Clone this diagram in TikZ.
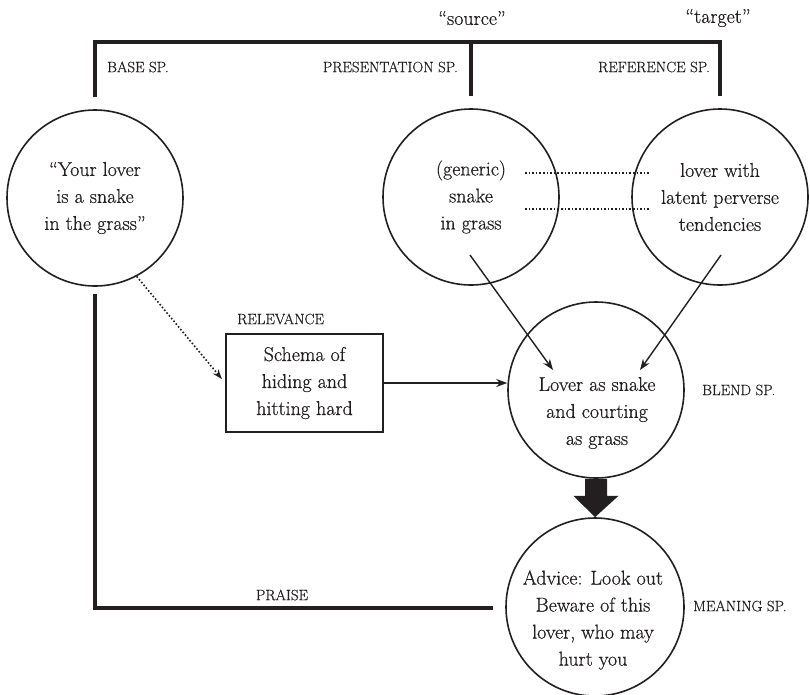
\documentclass[tikz,border=0pt]{standalone}
\usepackage{fontspec}
\setmainfont{Latin Modern Roman}[FakeBold=0.6]
\usetikzlibrary{arrows.meta,calc}
\definecolor{ink}{RGB}{35,31,32}
\newcommand\bodyfont{\fontsize{20}{27}\selectfont}
\newcommand\tagfont{\fontsize{15}{16}\selectfont}
\begin{document}
\begin{tikzpicture}[x=1pt,y=-1pt,
  every node/.style={text=ink},
  space/.style={circle,draw=ink,line width=1.6pt,minimum size=176pt,inner sep=0pt,align=center,font=\bodyfont},
  schemabox/.style={draw=ink,line width=1.6pt,minimum width=157pt,minimum height=98pt,inner sep=0pt,align=center,font=\bodyfont},
  txt/.style={align=center,font=\bodyfont,inner sep=0pt},
  spacetag/.style={font=\tagfont,inner sep=0pt},
  bracket/.style={draw=ink,line width=4.5pt},
  link/.style={draw=ink,line width=1.4pt,-{Stealth[length=11pt,width=8pt]}},
  counterpart/.style={draw=ink,line width=1.6pt,dotted}
]
\useasboundingbox (0,0) rectangle (810,694);

% mental spaces
\node[space] (base) at (95,198) {“Your lover\\is a snake\\in the grass”};
\node[space] (src) at (471,197) {(generic)\\snake\\in grass};
\node[space] (tgt) at (720,197) {lover with\\latent perverse\\tendencies};
\node[space] (blend) at (596,390) {};
\node[txt] (blendtxt) at (597,413) {Lover as snake\\and courting\\as grass};
\node[space,minimum size=178pt] (mean) at (595,607) {};
\node[txt] (meantxt) at (593,620) {Advice: Look out\\Beware of this\\lover, who may\\hurt you};
\node[schemabox] (schema) at (304.5,383) {Schema of\\hiding and\\hitting hard};

% labels
\node[txt] (srclab) at (472,18) {“source”};
\node[txt] (tgtlab) at (718,18) {“target”};
\node[spacetag,anchor=west] (basetag) at (107,67) {BASE SP.};
\node[spacetag,anchor=east] (prestag) at (458,67) {PRESENTATION SP.};
\node[spacetag,anchor=east] (reftag) at (710,67) {REFERENCE SP.};
\node[spacetag,anchor=west] (reltag) at (237,319) {RELEVANCE};
\node[spacetag] (praisetag) at (282,595) {PRAISE};
\node[spacetag,anchor=west] (blendtag) at (702,390) {BLEND SP.};
\node[spacetag,anchor=west] (meantag) at (693,606) {MEANING SP.};

% top bracket joining the three input spaces
\coordinate (bt) at ($(base.north)+(0,-12)$);
\coordinate (st) at ($(src.north)+(0,-12)$);
\coordinate (tt) at ($(tgt.north)+(0,-12)$);
\draw[bracket] (bt) -- ($(bt)+(0,-55)$) -| (tt);
\draw[bracket] (st) -- ($(st)+(0,-55)$);

% bottom bracket: base space to meaning space
\coordinate (bb) at ($(base.south)+(0,7)$);
\coordinate (me) at ($(mean.west)+(-12,1)$);
\draw[bracket] (bb) |- (me);

% counterpart links
\draw[counterpart] ($(src.center)+(54,-24)$) -- ($(tgt.center)+(-70,-24)$);
\draw[counterpart] ($(src.center)+(54,12)$) -- ($(tgt.center)+(-70,12)$);

% projections into the blend
\draw[link] ($(src.center)+(-1,58)$) -- ($(blend.center)+(-43,-20)$);
\draw[link] ($(tgt.center)+(1,58)$) -- ($(blend.center)+(44,-20)$);
\draw[link] (schema.east) -- (schema.east -| blend.west);
\draw[ink,line width=1.6pt,dotted,-{Stealth[length=10pt,width=7pt]},shorten >=5pt] (base.-62) -- (schema.west);

% blend to meaning
\fill[ink] ($(blend.south)+(-11,0)$) -- ($(blend.south)+(-11,17)$) -- ($(blend.south)+(-22.5,17)$)
  -- (mean.north) -- ($(blend.south)+(22.5,17)$) -- ($(blend.south)+(11,17)$) -- ($(blend.south)+(11,0)$) -- cycle;
\end{tikzpicture}
\end{document}
